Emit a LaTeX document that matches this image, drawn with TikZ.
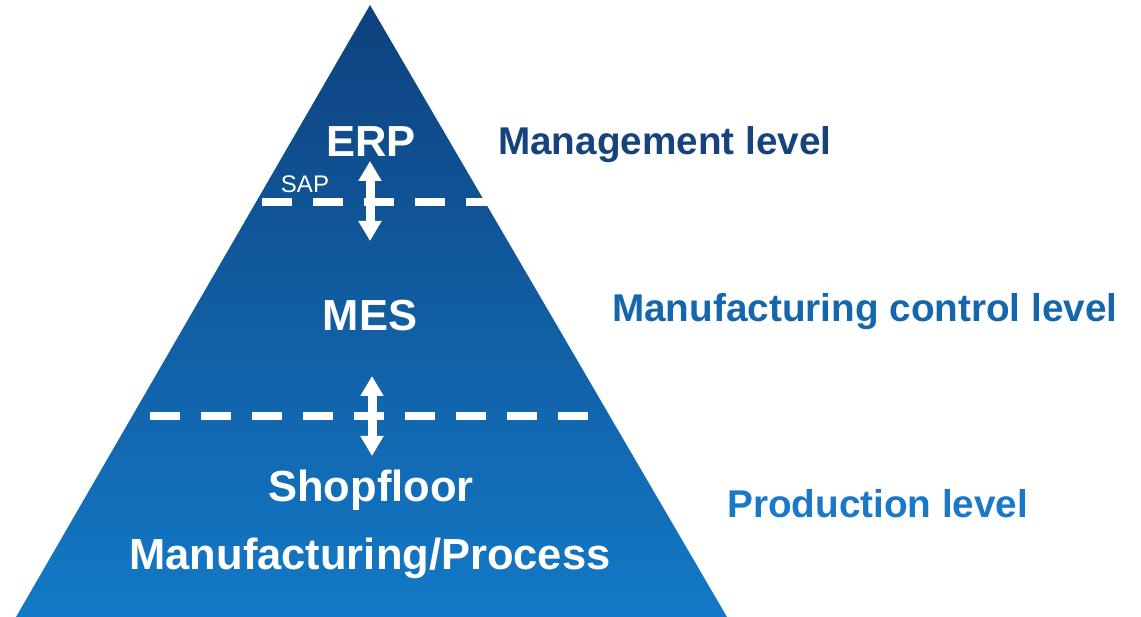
\documentclass[tikz,border=0pt]{standalone}
\usepackage{fontspec}
\setmainfont{Liberation Sans}
\usetikzlibrary{arrows.meta}
\definecolor{pyrtop}{HTML}{0F417E}
\definecolor{pyrbot}{HTML}{1379C6}
\definecolor{txtmgmt}{HTML}{17437D}
\definecolor{txtctrl}{HTML}{1567AD}
\definecolor{txtprod}{HTML}{1A78C6}
\begin{document}
\begin{tikzpicture}[x=1pt,y=-1pt,
    layer/.style={text=white,font=\fontsize{43.5}{46}\selectfont\bfseries,anchor=base,inner sep=0pt},
    level/.style={font=\fontsize{38.7}{42}\selectfont\bfseries,anchor=base west,inner sep=0pt},
    border/.style={white,line width=8pt,dash pattern=on 30pt off 21pt},
    updown/.style={white,line width=9pt,{Triangle[width=22pt,length=20pt]}-{Triangle[width=22pt,length=20pt]}}]
  \useasboundingbox (0,0) rectangle (1141,617);

  % Pyramid
  \shade[top color=pyrtop,bottom color=pyrbot] (370,5) -- (16,617) -- (727,617) -- cycle;

  % Borders between levels
  \draw[border] (262,202) -- (490,202);
  \draw[border] (150,416) -- (590,416);

  % Layers
  \node[layer] (erp) at (371,157) {ERP};
  \node[layer] (mes) at (370,331) {MES};
  \node[layer] (shop) at (371,501) {Shopfloor};
  \node[layer] (proc) at (370,569) {Manufacturing/Process};
  \node[text=white,font=\fontsize{24}{26}\selectfont,anchor=base,inner sep=0pt] (sap) at (305,193) {SAP};

  % Data exchange
  \coordinate (erpdn) at (370,161);
  \coordinate (mesup) at (370,241);
  \coordinate (mesdn) at (372,376);
  \coordinate (shopup) at (372,456);
  \draw[updown] (erpdn) -- (mesup);
  \draw[updown] (mesdn) -- (shopup);

  % Levels
  \node[level,text=txtmgmt] (mgmt) at (498,155) {Management level};
  \node[level,text=txtctrl] (ctrl) at (612,322) {Manufacturing control level};
  \node[level,text=txtprod] (prod) at (727,518) {Production level};
\end{tikzpicture}
\end{document}
